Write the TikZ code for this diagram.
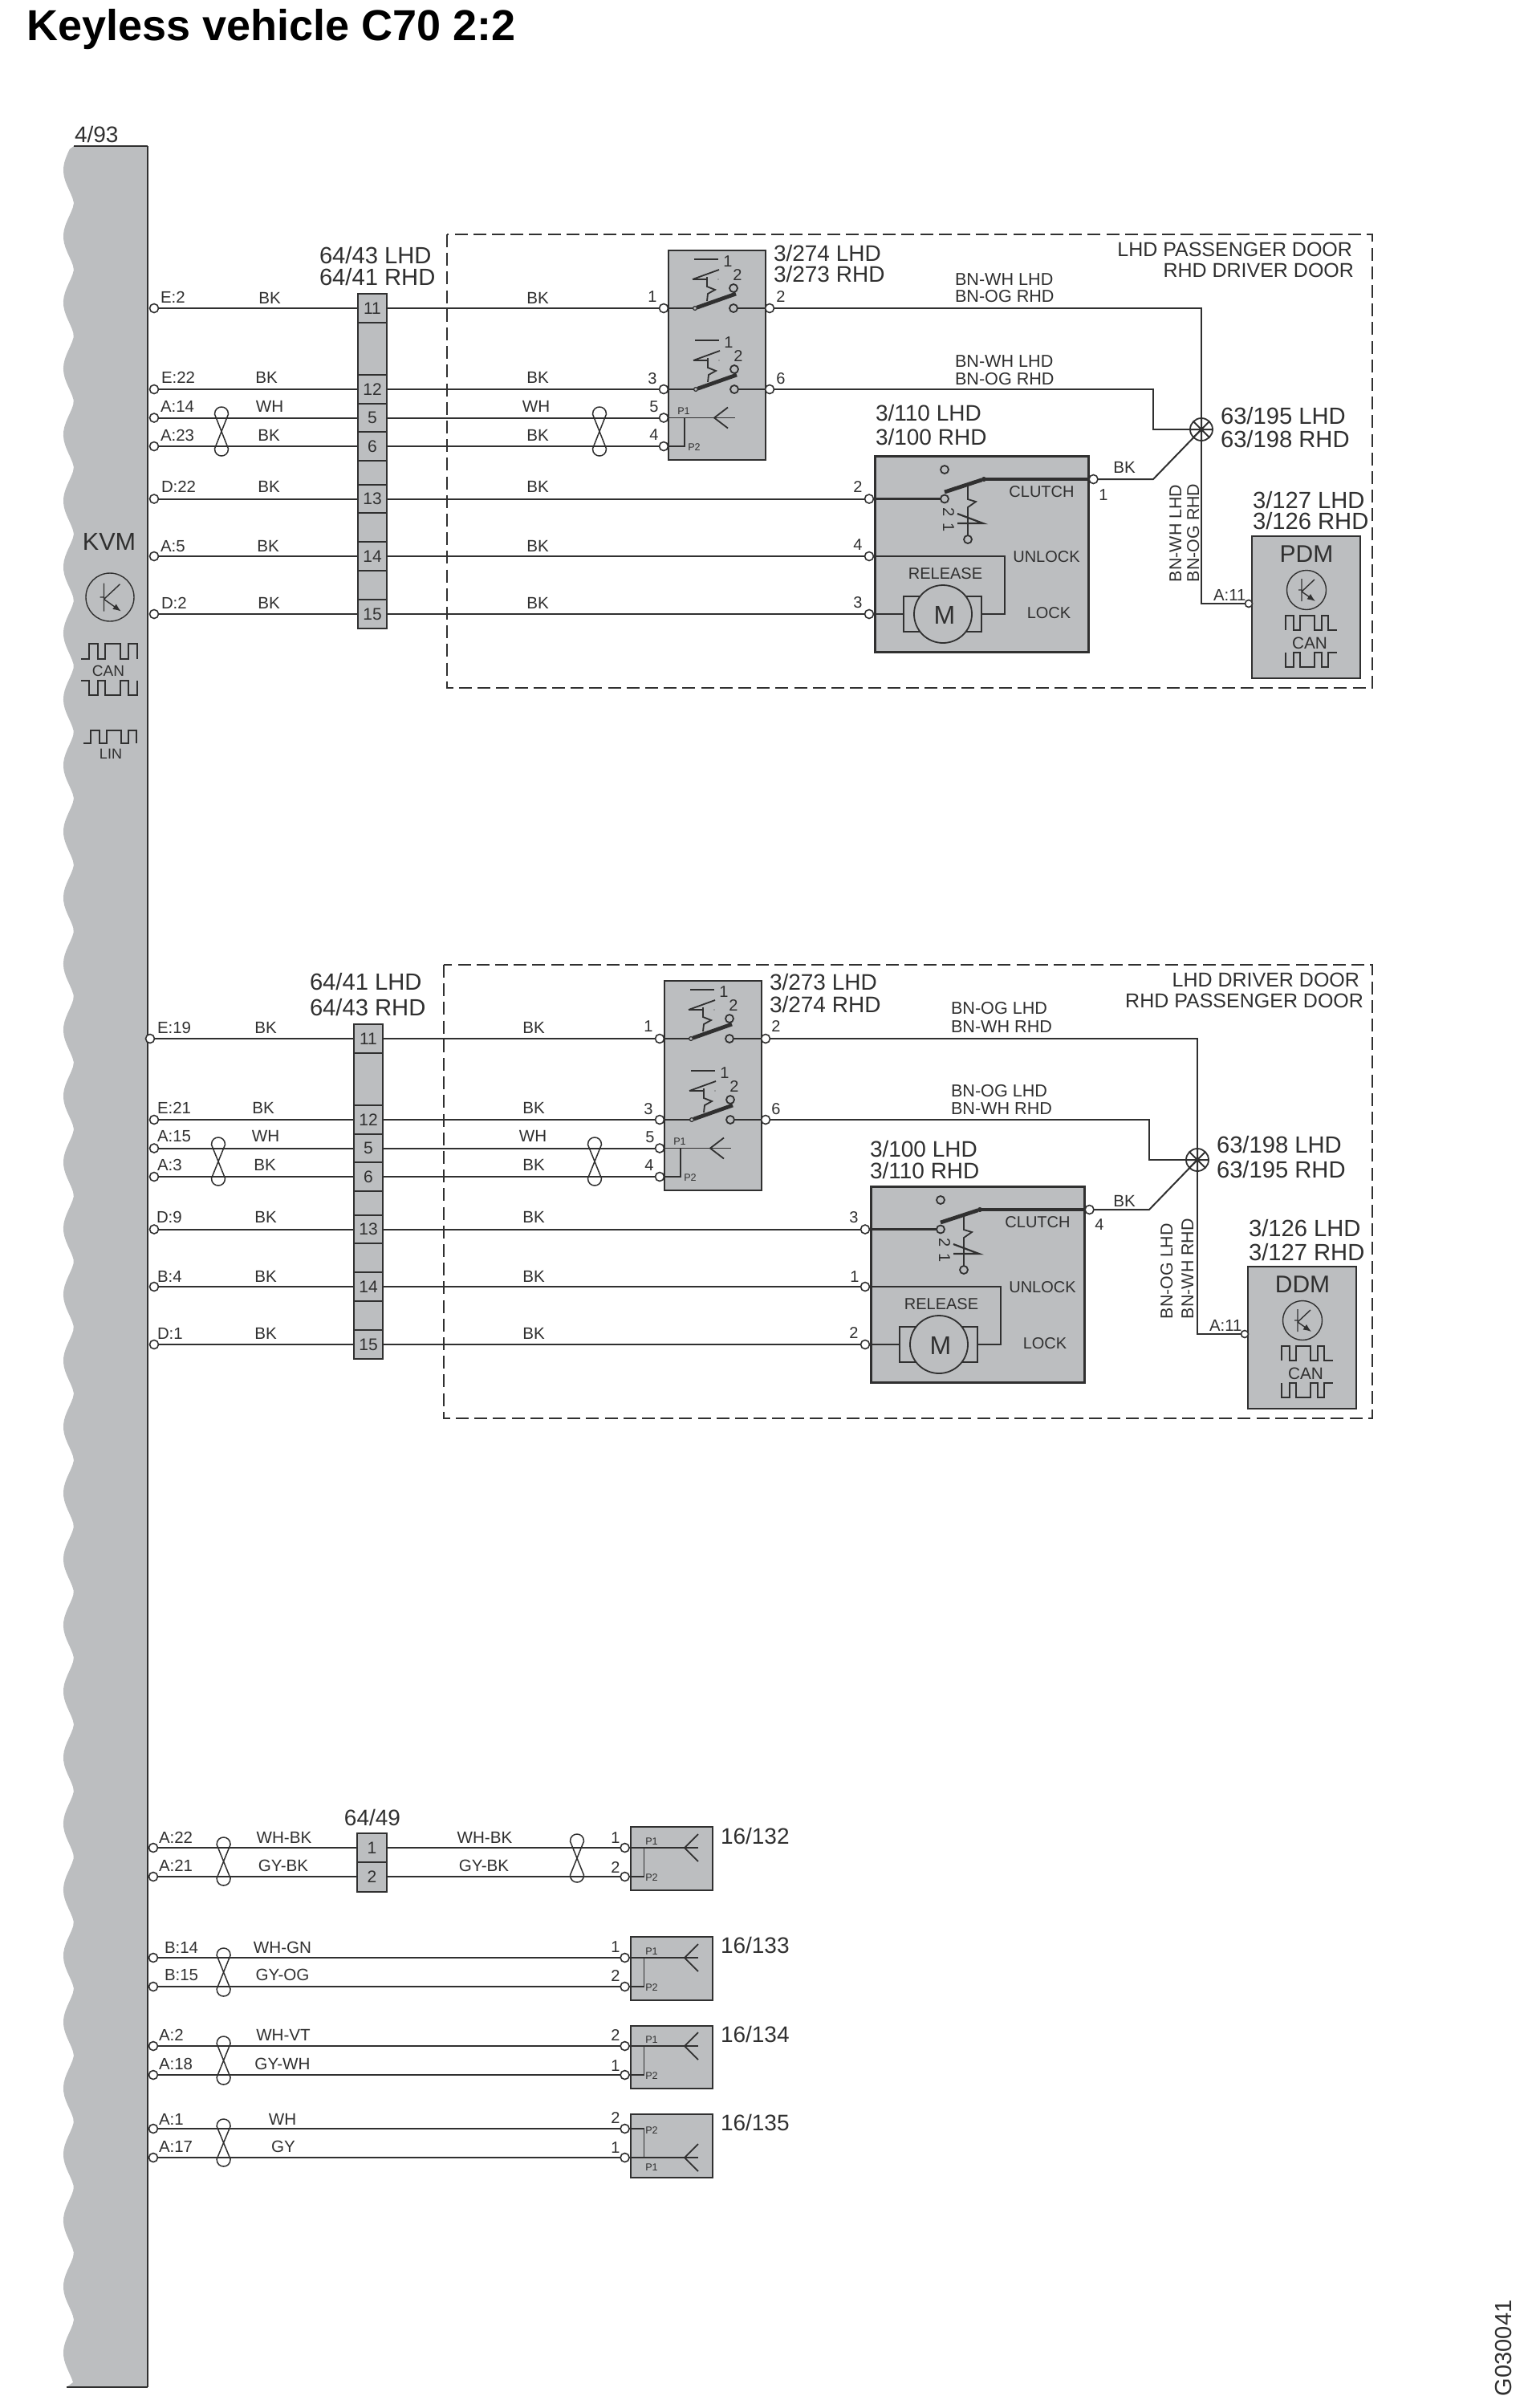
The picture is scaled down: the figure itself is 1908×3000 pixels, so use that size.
\documentclass[tikz,border=0pt]{standalone}
\usepackage{fontspec}
\setmainfont{Liberation Sans}
\usetikzlibrary{arrows.meta}
\definecolor{kgray}{HTML}{BCBEC0}
\definecolor{ink}{HTML}{303030}
\newcommand\fsz[1]{\fontsize{#1}{#1}\selectfont}
\newcount\lblc
% sizes: 1 unit = 1 reference pixel = 0.5pt
\tikzset{
  x=0.5pt,y=-0.5pt,
  wire/.style={draw=ink,line width=1pt},
  thinw/.style={draw=ink,line width=0.7pt},
  thickw/.style={draw=ink,line width=1.6pt},
  armw/.style={draw=ink,line width=2.4pt},
  boxn/.style={rectangle,draw=ink,fill=kgray,line width=1pt,inner sep=0pt,outer sep=0pt,font=\fsz{10.5},text=ink},
  mboxn/.style={boxn,line width=1.5pt},
  term/.style={circle,draw=ink,fill=white,line width=0.8pt,minimum size=5.5pt,inner sep=0pt,outer sep=0pt},
  smallterm/.style={term,minimum size=4.5pt},
  contact/.style={circle,draw=ink,fill=kgray,line width=0.9pt,minimum size=5pt,inner sep=0pt,outer sep=0pt},
  pivot/.style={circle,draw=ink,fill=kgray,line width=0.6pt,minimum size=2.4pt,inner sep=0pt,outer sep=0pt},
  splice/.style={circle,draw=ink,line width=0.9pt,minimum size=14pt,inner sep=0pt,outer sep=0pt},
  txt/.style={inner sep=0pt,outer sep=0pt,text=ink,font=\fsz{#1}},
  tw/.style={txt=10.3,anchor=base},
  tn/.style={txt=10,anchor=base},
  tp/.style={txt=10.2,anchor=base west},
  tl/.style={txt=14,anchor=base west},
  tlb/.style={txt=14.6,anchor=base west},
  tc/.style={txt=10,anchor=base},
  tsm/.style={txt=6.3,anchor=base},
  tdoor/.style={txt=12.5,anchor=base east},
  tbn/.style={txt=10.8,anchor=base west},
  tvert/.style={txt=10.7,anchor=base west,rotate=90},
}
\newcommand\lab[3]{\global\advance\lblc by 1\relax\node[#1] (lab\the\lblc) at (#2) {#3};}
% box node from corners
\newcommand\bx[7][boxn]{\node[#1,minimum width={(#5-#3)*0.5pt},minimum height={(#6-#4)*0.5pt}] (#2) at ({(#3+#5)/2},{(#4+#6)/2}) {#7};}
\newcommand\cellb[4]{\node[boxn,minimum width=18pt,minimum height={#3*0.5pt}] (#1) at (464,#2) {#4};}
\newcommand\twist[3]{\draw[thinw,line width=0.75pt] ({#1-8.5},{#2+9}) .. controls ({#1-8.5},{#2-3}) and ({#1+8.5},{#2-3}) .. ({#1+8.5},{#2+9}) -- ({#1-8.5},{#3-9}) .. controls ({#1-8.5},{#3+3}) and ({#1+8.5},{#3+3}) .. ({#1+8.5},{#3-9}) -- cycle;}
% transistor: centre, scale
\newcommand\transistor[5]{%
 \node[circle,draw=ink,line width=0.7pt,minimum size={#4*1pt},inner sep=0pt,outer sep=0pt] (#1) at (#2,#3) {};
 \begin{scope}[shift={(#2,#3)},scale=#5]
 \draw[thinw] (-6,-14) -- (-6,14) (-10,0) -- (-6,0) (-6,2) -- (10,-13);
 \draw[thinw,-{Latex[length=5pt,width=4pt]}] (-6,2) -- (11,14);
 \end{scope}}
% switch: prefix, pivot x,y
\newcommand\switchsym[3]{%
 \begin{scope}[shift={(#2,#3)}]
 \node[pivot] (#1p) at (0,0) {};
 \node[contact] (#1u) at (48,-25) {};
 \node[contact] (#1l) at (48,0) {};
 \draw[armw] (#1p) -- (51,-18);
 \draw[thinw,line width=0.9pt] (15,-39) -- (15,-27) -- (25,-23) -- (16,-18) -- (15,-9);
 \draw[thinw,line width=0.9pt] (-3,-36) -- (30,-48) (-3,-36) -- (15,-36);
 \draw[thinw,line width=0.9pt] (-1,-61) -- (29,-61);
 \fill[ink] (29,-36) circle[radius=0.7];
 \lab{tn}{41,-52}{1}
 \lab{tn}{53,-35}{2}
 \end{scope}}
% fork shape
\newcommand\fork[3]{\draw[thinw,line width=0.9pt] ({#1+17},{#2-#3}) -- (#1,#2) -- ({#1+17},{#2+#3});}
% door section
\newcommand\doorsection[5]{% prefix dx dy firstx module
 \node[term] (#1t1) at (#4,{384+#3}) {};
 \node[term] (#1t2) at ({192},{485+#3}) {};
 \node[term] (#1t3) at ({192},{520.5+#3}) {};
 \node[term] (#1t4) at ({192},{556+#3}) {};
 \node[term] (#1t5) at ({192},{621.5+#3}) {};
 \node[term] (#1t6) at ({192},{693+#3}) {};
 \node[term] (#1t7) at ({192},{765+#3}) {};
 \begin{scope}[shift={(#2,#3)}]
 % connector block
 \cellb{#1b1}{384}{36}{11}
 \cellb{#1g1}{434.5}{65}{}
 \cellb{#1b2}{485}{36}{12}
 \cellb{#1b3}{520.5}{35}{5}
 \cellb{#1b4}{556}{36}{6}
 \cellb{#1g2}{589}{30}{}
 \cellb{#1b5}{621.5}{35}{13}
 \cellb{#1g3}{657}{36}{}
 \cellb{#1b6}{693}{36}{14}
 \cellb{#1g4}{729}{36}{}
 \cellb{#1b7}{765}{36}{15}
 % switch box
 \bx{#1sw}{833}{312}{954}{573}{}
 \node[term] (#1s1) at (827,384) {};
 \node[term] (#1s2) at (959,384) {};
 \node[term] (#1s3) at (827,485) {};
 \node[term] (#1s6) at (959,485) {};
 \node[term] (#1s5) at (827,520.5) {};
 \node[term] (#1s4) at (827,556) {};
 \switchsym{#1a}{866}{384}
 \switchsym{#1c}{867}{485}
 \coordinate (#1fe) at (916,520.5);
 \coordinate (#1fv) at (853,520.5);
 \coordinate (#1fb) at (853,556);
 \draw[wire,line width=0.8pt] (#1s5) -- (#1fe);
 \draw[wire,line width=0.8pt] (#1s4) -- (#1fb) -- (#1fv);
 \fork{890}{520.5}{13}
 \lab{tsm}{852,516}{P1}
 \lab{tsm}{865,561}{P2}
 \draw[wire] (#1s1) -- (#1ap);
 \draw[wire] (#1al) -- (#1s2);
 \draw[wire] (#1s3) -- (#1cp);
 \draw[wire] (#1cl) -- (#1s6);
 % motor box
 \bx[mboxn]{#1mb}{1090}{568}{1356}{812}{}
 \node[term] (#1m1) at (1083,621.5) {};
 \node[term] (#1m2) at (1083,693) {};
 \node[term] (#1m3) at (1083,765) {};
 \node[term] (#1m4) at (1362.5,597) {};
 \node[contact] (#1mu) at (1177,585) {};
 \node[contact] (#1ml) at (1177,621.5) {};
 \node[contact] (#1mb2) at (1206,672) {};
 \node[pivot,fill=ink] (#1mp) at (1226,597) {};
 \draw[thickw] (#1m1) -- (#1ml);
 \draw[armw] (1177,613) -- (#1mp);
 \draw[thickw] (#1mp) -- (#1m4);
 \draw[thinw,line width=0.9pt] (1206,605) -- (1206,622) -- (1216,625) -- (1206,632) -- (#1mb2);
 \draw[thinw,line width=1.1pt] (1193,652) -- (1225,652) -- (1193,640);
 \lab{tn,rotate=-90}{1175,638}{2}
 \lab{tn,rotate=-90}{1175,657}{1}
 \lab{tc}{1298,619}{CLUTCH}
 \lab{tc}{1304,700}{UNLOCK}
 \lab{tc}{1307,770}{LOCK}
 \lab{tc}{1178,721}{RELEASE}
 \draw[thickw,line width=1.2pt] (#1m2) -- (1252,693) -- (1252,765) -- (1223,765) -- (1223,743) -- (1126,743) -- (1126,787) -- (1223,787) -- (1223,765);
 \draw[thickw,line width=1.2pt] (#1m3) -- (1126,765);
 \node[circle,draw=ink,fill=kgray,line width=0.9pt,minimum size=36pt,inner sep=0pt,outer sep=0pt] (#1mot) at (1175,765) {};
 \lab{txt=16,anchor=base}{1177,777}{M}
 % module box
 \bx{#1md}{1560}{668}{1695}{845}{}
 \node[smallterm] (#1mdt) at (1556,752) {};
 \lab{txt=15,anchor=base}{1628,700}{#5}
 \transistor{#1tr}{1628}{735}{24.5}{1}
 \draw[thinw] (1602,785) -- (1602,767) -- (1612,767) -- (1612,785) -- (1620,785) -- (1620,767) -- (1638,767) -- (1638,785) -- (1647,785) -- (1647,767) -- (1655,767) -- (1655,785) -- (1666,785);
 \lab{txt=10.4,anchor=base}{1632,808}{CAN}
 \draw[thinw] (1602,813) -- (1602,831) -- (1612,831) -- (1612,813) -- (1620,813) -- (1620,831) -- (1638,831) -- (1638,813) -- (1647,813) -- (1647,831) -- (1655,831) -- (1655,813) -- (1666,813);
 % splice and routed wires
 \node[splice] (#1sp) at (1497,535) {};
 \coordinate (#1k1) at (1437,485);
 \coordinate (#1k2) at (1437,597);
 \draw[wire] (#1s2) -| (#1sp.north);
 \draw[wire] (#1sp.south) |- (#1mdt);
 \draw[wire] (#1s6) -- (#1k1) |- (#1sp.west);
 \draw[wire] (#1m4) -- (#1k2) -- (#1sp.center);
 \draw[wire] (#1sp.north) -- (#1sp.south) (#1sp.west) -- (#1sp.east) (#1sp.45) -- (#1sp.225) (#1sp.135) -- (#1sp.-45);
 \end{scope}
 % harness wires
 \draw[wire] (#1t1) -- (#1t1 -| #1b1.west);
 \draw[wire] (#1t2) -- (#1b2);
 \draw[wire] (#1t3) -- (#1b3);
 \draw[wire] (#1t4) -- (#1b4);
 \draw[wire] (#1t5) -- (#1b5);
 \draw[wire] (#1t6) -- (#1b6);
 \draw[wire] (#1t7) -- (#1b7);
 \draw[wire] (#1b1) -- (#1s1);
 \draw[wire] (#1b2) -- (#1s3);
 \draw[wire] (#1b3) -- (#1s5);
 \draw[wire] (#1b4) -- (#1s4);
 \draw[wire] (#1b5) -- (#1m1);
 \draw[wire] (#1b6) -- (#1m2);
 \draw[wire] (#1b7) -- (#1m3);
}
% small connector: prefix top bottom rowTop rowBottom forkrow
\newcommand\smallconn[6]{%
 \bx{#1b}{786}{#2}{888}{#3}{}
 \node[term] (#1a) at (778.6,#4) {};
 \node[term] (#1c) at (778.6,#5) {};
 \node[term] (#1l1) at (191,#4) {};
 \node[term] (#1l2) at (191,#5) {};
 \coordinate (#1e) at (870,#6);
 \coordinate (#1v1) at (802.5,#4);
 \coordinate (#1v2) at (802.5,#5);
 \draw[wire,line width=0.8pt] (#1v1) -- (#1v2);
 \draw[wire,line width=0.8pt] (#1a) -- (#1v1);
 \draw[wire,line width=0.8pt] (#1c) -- (#1v2);
 \draw[wire,line width=0.8pt] (802,#6) -- (#1e);
 \fork{853}{#6}{17}
}
\begin{document}
\begin{tikzpicture}
\useasboundingbox (0,0) rectangle (1908,3000);
\fill[white] (0,0) rectangle (1908,3000);
% title
\node[inner sep=0pt,anchor=base west,font={\bfseries\fsz{27}},text=black] (title) at (33,50) {Keyless vehicle C70 2:2};
% KVM bar
\fill[kgray] (92,182) -- plot[variable=\t,domain=186:2968,samples=500] ({92-13*pow(abs(cos(2.18447*(\t-212)))+0.002,1.5)},\t) -- (83,2974) -- (184,2974) -- (184,182) -- cycle;
\draw[line width=1pt,draw=ink] (92,182) -- (184,182);
\draw[line width=1pt,draw=ink] (184,182) -- (184,2974);
\draw[line width=1.2pt,draw=ink] (83,2974) -- (184,2974);
\lab{tl}{93,177}{4/93}
\lab{txt=15.3,anchor=base}{136,685}{KVM}
\transistor{kvmtr}{137}{744}{30}{1.25}
\draw[thinw] (101,821) -- (111,821) -- (111,802) -- (122,802) -- (122,821) -- (131,821) -- (131,802) -- (150,802) -- (150,821) -- (160,821) -- (160,802) -- (171,802) -- (171,821);
\lab{txt=9.5,anchor=base}{135,842}{CAN}
\draw[thinw] (101,848) -- (111,848) -- (111,866) -- (122,866) -- (122,848) -- (131,848) -- (131,866) -- (150,866) -- (150,848) -- (160,848) -- (160,866) -- (171,866) -- (171,848);
\draw[thinw] (104,926) -- (113,926) -- (113,910) -- (124,910) -- (124,926) -- (133,926) -- (133,910) -- (151,910) -- (151,926) -- (160,926) -- (160,910) -- (170,910) -- (170,926);
\lab{txt=9,anchor=base}{138,945}{LIN}
% door sections
\doorsection{a}{0}{0}{192}{PDM}
\doorsection{d}{-5}{910}{187}{DDM}
% dashed enclosures
\draw[draw=ink,line width=0.8pt,dash pattern=on 8pt off 3.6pt] (557,292) rectangle (1710,857);
\draw[draw=ink,line width=0.8pt,dash pattern=on 8pt off 3.6pt] (553,1202) rectangle (1710,1767);
\twist{276}{507}{568}
\twist{747}{507}{568}
\twist{272}{1417}{1477}
\twist{741}{1417}{1477}
% section 1 labels
\lab{tlb}{398,328}{64/43 LHD}
\lab{tlb}{398,355}{64/41 RHD}
\lab{tl}{964,325}{3/274 LHD}
\lab{tl}{964,351}{3/273 RHD}
\lab{tl}{1091,524}{3/110 LHD}
\lab{tl}{1091,554}{3/100 RHD}
\lab{tlb}{1521,528}{63/195 LHD}
\lab{tlb}{1521,557}{63/198 RHD}
\lab{tlb}{1561,633}{3/127 LHD}
\lab{tlb}{1561,659}{3/126 RHD}
\lab{tdoor}{1685,319}{LHD PASSENGER DOOR}
\lab{tdoor}{1687,345}{RHD DRIVER DOOR}
\lab{tbn}{1190,355}{BN-WH LHD}
\lab{tbn}{1190,376}{BN-OG RHD}
\lab{tbn}{1190,457}{BN-WH LHD}
\lab{tbn}{1190,479}{BN-OG RHD}
\lab{tvert}{1472,725}{BN-WH LHD}
\lab{tvert}{1494,725}{BN-OG RHD}
\lab{tp}{1512,748}{A:11}
\lab{tw}{1401,589}{BK}
\lab{tp}{200,377}{E:2}
\lab{tp}{201,477}{E:22}
\lab{tp}{200,513}{A:14}
\lab{tp}{200,549}{A:23}
\lab{tp}{201,613}{D:22}
\lab{tp}{200,687}{A:5}
\lab{tp}{201,758}{D:2}
\lab{tw}{336,378}{BK}\lab{tw}{670,378}{BK}
\lab{tw}{332,477}{BK}\lab{tw}{670,477}{BK}
\lab{tw}{336,513}{WH}\lab{tw}{668,513}{WH}
\lab{tw}{335,549}{BK}\lab{tw}{670,549}{BK}
\lab{tw}{335,613}{BK}\lab{tw}{670,613}{BK}
\lab{tw}{334,687}{BK}\lab{tw}{670,687}{BK}
\lab{tw}{335,758}{BK}\lab{tw}{670,758}{BK}
\lab{tn}{813,376}{1}\lab{tn}{973,376}{2}
\lab{tn}{813,478}{3}\lab{tn}{973,478}{6}
\lab{tn}{815,513}{5}\lab{tn}{815,548}{4}
\lab{tn}{1069,613}{2}\lab{tn}{1069,685}{4}\lab{tn}{1069,757}{3}\lab{tn}{1375,623}{1}
% section 2 labels
\lab{tlb}{386,1233}{64/41 LHD}
\lab{tlb}{386,1265}{64/43 RHD}
\lab{tl}{959,1233}{3/273 LHD}
\lab{tl}{959,1261}{3/274 RHD}
\lab{tl}{1084,1441}{3/100 LHD}
\lab{tl}{1084,1468}{3/110 RHD}
\lab{tlb}{1516,1436}{63/198 LHD}
\lab{tlb}{1516,1467}{63/195 RHD}
\lab{tlb}{1556,1540}{3/126 LHD}
\lab{tlb}{1556,1570}{3/127 RHD}
\lab{tdoor}{1694,1229}{LHD DRIVER DOOR}
\lab{tdoor}{1699,1255}{RHD PASSENGER DOOR}
\lab{tbn}{1185,1263}{BN-OG LHD}
\lab{tbn}{1185,1286}{BN-WH RHD}
\lab{tbn}{1185,1366}{BN-OG LHD}
\lab{tbn}{1185,1388}{BN-WH RHD}
\lab{tvert}{1461,1643}{BN-OG LHD}
\lab{tvert}{1487,1643}{BN-WH RHD}
\lab{tp}{1507,1658}{A:11}
\lab{tw}{1401,1503}{BK}
\lab{tp}{196,1287}{E:19}
\lab{tp}{196,1387}{E:21}
\lab{tp}{196,1422}{A:15}
\lab{tp}{196,1458}{A:3}
\lab{tp}{195,1523}{D:9}
\lab{tp}{196,1597}{B:4}
\lab{tp}{196,1668}{D:1}
\lab{tw}{331,1287}{BK}\lab{tw}{665,1287}{BK}
\lab{tw}{328,1387}{BK}\lab{tw}{665,1387}{BK}
\lab{tw}{331,1422}{WH}\lab{tw}{664,1422}{WH}
\lab{tw}{330,1458}{BK}\lab{tw}{665,1458}{BK}
\lab{tw}{331,1523}{BK}\lab{tw}{665,1523}{BK}
\lab{tw}{331,1597}{BK}\lab{tw}{665,1597}{BK}
\lab{tw}{331,1668}{BK}\lab{tw}{665,1668}{BK}
\lab{tn}{808,1285}{1}\lab{tn}{967,1285}{2}
\lab{tn}{808,1388}{3}\lab{tn}{967,1388}{6}
\lab{tn}{810,1423}{5}\lab{tn}{809,1458}{4}
\lab{tn}{1064,1523}{3}\lab{tn}{1065,1597}{1}\lab{tn}{1064,1667}{2}\lab{tn}{1370,1532}{4}
% section 3
\smallconn{p}{2276}{2355}{2302}{2338}{2302}
\node[boxn,minimum width=18.5pt,minimum height=18.5pt] (j1) at (463.5,2302) {1};
\node[boxn,minimum width=18.5pt,minimum height=18.5pt] (j2) at (463.5,2338) {2};
\draw[wire] (pl1) -- (j1);
\draw[wire] (j1) -- (pa);
\draw[wire] (pl2) -- (j2);
\draw[wire] (j2) -- (pc);
\lab{tl,anchor=base}{464,2274}{64/49}
\lab{tw}{354,2296}{WH-BK}\lab{tw}{353,2331}{GY-BK}
\lab{tw}{604,2296}{WH-BK}\lab{tw}{603,2331}{GY-BK}
\lab{tp}{198,2296}{A:22}\lab{tp}{198,2331}{A:21}
\lab{tn}{767,2296}{1}\lab{tn}{767,2333}{2}
\lab{tl}{898,2297}{16/132}
\lab{tsm}{812,2298}{P1}\lab{tsm}{812,2343}{P2}
\twist{278.6}{2289}{2349}
\twist{719}{2285}{2345}
\smallconn{q}{2413}{2492}{2439}{2475}{2439}
\draw[wire] (ql1) -- (qa);
\draw[wire] (ql2) -- (qc);
\lab{tw}{352,2433}{WH-GN}\lab{tw}{352,2467}{GY-OG}
\lab{tp}{205,2433}{B:14}\lab{tp}{205,2467}{B:15}
\lab{tn}{767,2432}{1}\lab{tn}{767,2468}{2}
\lab{tl}{898,2433}{16/133}
\lab{tsm}{812,2435}{P1}\lab{tsm}{812,2480}{P2}
\twist{278.6}{2427}{2487}
\smallconn{r}{2524}{2602}{2549}{2585}{2549}
\draw[wire] (rl1) -- (ra);
\draw[wire] (rl2) -- (rc);
\lab{tw}{353,2542}{WH-VT}\lab{tw}{352,2578}{GY-WH}
\lab{tp}{198,2542}{A:2}\lab{tp}{198,2578}{A:18}
\lab{tn}{767,2542}{2}\lab{tn}{767,2580}{1}
\lab{tl}{898,2544}{16/134}
\lab{tsm}{812,2545}{P1}\lab{tsm}{812,2590}{P2}
\twist{278.6}{2537}{2597}
\smallconn{s}{2634}{2713}{2652}{2688}{2688}
\draw[wire] (sl1) -- (sa);
\draw[wire] (sl2) -- (sc);
\lab{tw}{352,2647}{WH}\lab{tw}{353,2681}{GY}
\lab{tp}{198,2647}{A:1}\lab{tp}{198,2681}{A:17}
\lab{tn}{767,2645}{2}\lab{tn}{767,2682}{1}
\lab{tl}{898,2654}{16/135}
\lab{tsm}{812,2658}{P2}\lab{tsm}{812,2704}{P1}
\twist{278.6}{2640}{2699}
\lab{txt=14.5,anchor=base west,rotate=90}{1883,2985}{G030041}
\end{tikzpicture}
\end{document}
